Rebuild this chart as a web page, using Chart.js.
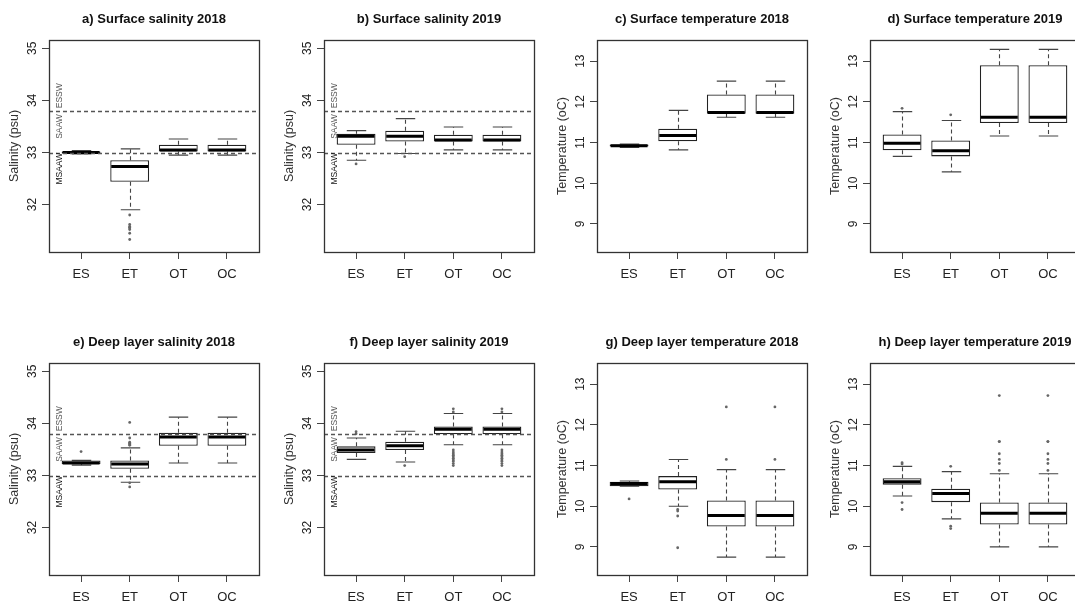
<!DOCTYPE html>
<html>
<head>
<meta charset="utf-8">
<script src="https://cdn.jsdelivr.net/npm/chart.js@4.4.1/dist/chart.umd.min.js"></script>
<style>
  body { margin: 0; background: #fff; width: 1075px; height: 603px; overflow: hidden; position: relative; }
  canvas { position: absolute; }
</style>
</head>
<body>
<script>
const groups = ['ES', 'ET', 'OT', 'OC'];
const salinityTicks = [32, 33, 34, 35];
const temperatureTicks = [9, 10, 11, 12, 13];
const waterMassLimits = [33.0, 33.8];
const waterMassNames = ['MSAAW', 'SAAW', 'ESSW'];
const waterMassNameY = [32.69, 33.5, 34.09];

// each row: [lower whisker, Q1, median, Q3, upper whisker]
const surfSal2018 = [[32.97, 32.98, 33.0, 33.02, 33.04], [31.9, 32.44, 32.73, 32.85, 33.07], [32.95, 33.02, 33.05, 33.15, 33.26], [32.95, 33.02, 33.05, 33.15, 33.26]];
const surfSal2018Out = [[], [31.8, 31.62, 31.58, 31.56, 31.55, 31.52, 31.45, 31.33], [], []];

const surfSal2019 = [[32.85, 33.15, 33.31, 33.36, 33.42], [32.98, 33.21, 33.31, 33.42, 33.65], [33.05, 33.21, 33.24, 33.34, 33.49], [33.05, 33.21, 33.24, 33.34, 33.49]];
const surfSal2019Out = [[32.78], [32.92], [], []];

const surfTemp2018 = [[10.88, 10.9, 10.92, 10.95, 10.96], [10.82, 11.03, 11.17, 11.34, 11.79], [11.62, 11.71, 11.74, 12.18, 12.51], [11.62, 11.71, 11.74, 12.18, 12.51]];
const surfTemp2018Out = [[], [], [], []];

const surfTemp2019 = [[10.66, 10.81, 10.98, 11.2, 11.76], [10.28, 10.66, 10.8, 11.05, 11.54], [11.16, 11.48, 11.62, 12.9, 13.29], [11.16, 11.48, 11.62, 12.9, 13.29]];
const surfTemp2019Out = [[11.84], [11.68], [], []];

const deepSal2018 = [[33.2, 33.22, 33.24, 33.29, 33.29], [32.87, 33.13, 33.22, 33.29, 33.53], [33.24, 33.57, 33.74, 33.82, 34.12], [33.24, 33.57, 33.74, 33.82, 34.12]];
const deepSal2018Out = [[33.46], [34.02, 33.72, 33.64, 33.62, 33.6, 33.58, 32.86, 32.78], [], []];

const deepSal2019 = [[33.31, 33.43, 33.49, 33.56, 33.72], [33.26, 33.49, 33.57, 33.65, 33.85], [33.59, 33.79, 33.89, 33.94, 34.19], [33.59, 33.79, 33.89, 33.94, 34.19]];
const deepSal2019Out = [[33.8, 33.84], [33.19], [34.22, 34.28, 33.49, 33.45, 33.42, 33.39, 33.36, 33.33, 33.3, 33.27, 33.23, 33.19], [34.22, 34.28, 33.49, 33.45, 33.42, 33.39, 33.36, 33.33, 33.3, 33.27, 33.23, 33.19]];

const deepTemp2018 = [[10.49, 10.49, 10.56, 10.6, 10.62], [10.0, 10.41, 10.6, 10.74, 11.15], [8.75, 9.5, 9.77, 10.14, 10.9], [8.75, 9.5, 9.77, 10.14, 10.9]];
const deepTemp2018Out = [[10.18], [9.92, 9.88, 9.76, 8.98], [11.15, 12.44], [11.15, 12.44]];

const deepTemp2019 = [[10.25, 10.53, 10.6, 10.69, 10.98], [9.69, 10.1, 10.31, 10.43, 10.85], [9.0, 9.55, 9.83, 10.09, 10.8], [9.0, 9.55, 9.83, 10.09, 10.8]];
const deepTemp2019Out = [[11.07, 11.04, 10.09, 9.92], [10.98, 9.51, 9.45], [10.88, 11.05, 11.15, 11.29, 11.59, 11.59, 12.72], [10.88, 11.05, 11.15, 11.29, 11.59, 11.59, 12.72]];

const panels = [
  { title: 'a) Surface salinity 2018', boxes: surfSal2018, out: surfSal2018Out, salinity: true },
  { title: 'b) Surface salinity 2019', boxes: surfSal2019, out: surfSal2019Out, salinity: true },
  { title: 'c) Surface temperature 2018', boxes: surfTemp2018, out: surfTemp2018Out, salinity: false },
  { title: 'd) Surface temperature 2019', boxes: surfTemp2019, out: surfTemp2019Out, salinity: false },
  { title: 'e) Deep layer salinity 2018', boxes: deepSal2018, out: deepSal2018Out, salinity: true },
  { title: 'f) Deep layer salinity 2019', boxes: deepSal2019, out: deepSal2019Out, salinity: true },
  { title: 'g) Deep layer temperature 2018', boxes: deepTemp2018, out: deepTemp2018Out, salinity: false },
  { title: 'h) Deep layer temperature 2019', boxes: deepTemp2019, out: deepTemp2019Out, salinity: false }
];

const colLeft = [0, 275, 548, 821];
const rowTop = [0, 323];
const CW = 267, CH = 300;

Chart.defaults.font.family = "'Liberation Sans', Arial, sans-serif";
Chart.defaults.devicePixelRatio = 1;

// whiskers, medians, water mass limits and the plot frame
const boxPlotPlugin = {
  id: 'boxPlot',
  beforeDatasetsDraw(chart, args, opts) {
    const { ctx } = chart;
    const xs = chart.scales.x, ys = chart.scales.y;
    const cap = xs.getPixelForValue(1.2) - xs.getPixelForValue(1);
    ctx.save();
    ctx.strokeStyle = '#444';
    ctx.lineWidth = 1.1;
    opts.boxes.forEach((b, i) => {
      const x = Math.round(xs.getPixelForValue(i + 1)) + 0.5;
      ctx.setLineDash([4, 3]);
      ctx.beginPath();
      ctx.moveTo(x, ys.getPixelForValue(b[3]));
      ctx.lineTo(x, ys.getPixelForValue(b[4]));
      ctx.moveTo(x, ys.getPixelForValue(b[1]));
      ctx.lineTo(x, ys.getPixelForValue(b[0]));
      ctx.stroke();
      ctx.setLineDash([]);
      ctx.beginPath();
      [b[0], b[4]].forEach(v => {
        const y = ys.getPixelForValue(v);
        ctx.moveTo(x - cap, y);
        ctx.lineTo(x + cap, y);
      });
      ctx.stroke();
    });
    ctx.restore();
  },
  afterDatasetsDraw(chart, args, opts) {
    const { ctx, chartArea: a } = chart;
    const xs = chart.scales.x, ys = chart.scales.y;
    const half = (xs.getPixelForValue(1.4) - xs.getPixelForValue(1));
    ctx.save();
    ctx.strokeStyle = '#000';
    ctx.lineWidth = 3;
    opts.boxes.forEach((b, i) => {
      const x = xs.getPixelForValue(i + 1);
      const y = ys.getPixelForValue(b[2]);
      ctx.beginPath();
      ctx.moveTo(x - half + 1, y);
      ctx.lineTo(x + half - 1, y);
      ctx.stroke();
    });

    if (opts.salinity) {
      ctx.strokeStyle = '#555';
      ctx.lineWidth = 1.6;
      ctx.setLineDash([4, 3]);
      waterMassLimits.forEach(v => {
        const y = Math.round(ys.getPixelForValue(v)) + 0.5;
        ctx.beginPath();
        ctx.moveTo(a.left, y);
        ctx.lineTo(a.right, y);
        ctx.stroke();
      });
      ctx.setLineDash([]);
      ctx.font = "8.5px 'Liberation Sans', Arial, sans-serif";
      ctx.textAlign = 'center';
      ctx.textBaseline = 'middle';
      waterMassNames.forEach((name, i) => {
        ctx.save();
        ctx.translate(xs.getPixelForValue(0.55), ys.getPixelForValue(waterMassNameY[i]));
        ctx.rotate(-Math.PI / 2);
        ctx.fillStyle = i === 0 ? '#111' : '#555';
        ctx.fillText(name, 0, 0);
        ctx.restore();
      });
    }

    ctx.strokeStyle = '#333';
    ctx.lineWidth = 1.3;
    ctx.strokeRect(Math.round(a.left) + 0.5, Math.round(a.top) + 0.5, Math.round(a.right - a.left), Math.round(a.bottom - a.top));
    ctx.restore();
  }
};

panels.forEach((p, k) => {
  const cv = document.createElement('canvas');
  cv.width = CW;
  cv.height = CH;
  cv.style.width = CW + 'px';
  cv.style.height = CH + 'px';
  cv.style.left = colLeft[k % 4] + 'px';
  cv.style.top = rowTop[Math.floor(k / 4)] + 'px';
  document.body.appendChild(cv);

  const tickVals = p.salinity ? salinityTicks : temperatureTicks;
  const outliers = [];
  p.out.forEach((vals, i) => vals.forEach(v => outliers.push({ x: i + 1, y: v })));

  new Chart(cv, {
    type: 'bar',
    data: {
      datasets: [
        {
          type: 'bar',
          data: p.boxes.map((b, i) => ({ x: i + 1, y: [b[1], b[3]] })),
          backgroundColor: '#fff',
          borderColor: '#222',
          borderWidth: 1.3,
          borderSkipped: false,
          barPercentage: 0.8,
          categoryPercentage: 1
        },
        {
          type: 'scatter',
          data: outliers,
          pointRadius: 1.4,
          pointBackgroundColor: '#666',
          pointBorderWidth: 0
        }
      ]
    },
    options: {
      responsive: false,
      animation: false,
      events: [],
      layout: { padding: { left: 0, right: CW - 49 - 210, top: 0, bottom: 0 } },
      plugins: {
        legend: { display: false },
        tooltip: { enabled: false },
        title: {
          display: true,
          text: p.title,
          fullSize: false,
          color: '#111',
          font: { size: 13, weight: 'bold' },
          padding: { top: 12, bottom: 12.4 }
        },
        boxPlot: { boxes: p.boxes, salinity: p.salinity }
      },
      scales: {
        x: {
          type: 'linear',
          min: 0.34,
          max: 4.66,
          offset: false,
          afterBuildTicks: s => { s.ticks = groups.map((g, i) => ({ value: i + 1 })); },
          afterFit: s => { s.height = CH - 252; },
          border: { display: false },
          grid: { drawOnChartArea: false, offset: false, tickLength: 7, color: '#444' },
          ticks: {
            autoSkip: false,
            maxRotation: 0,
            padding: 8,
            color: '#222',
            font: { family: "'Liberation Sans Narrow', 'Liberation Sans', Arial, sans-serif", size: 13 },
            callback: v => groups[v - 1]
          }
        },
        y: {
          min: p.salinity ? 31.09 : 8.31,
          max: p.salinity ? 35.16 : 13.52,
          afterBuildTicks: s => { s.ticks = tickVals.map(v => ({ value: v })); },
          afterFit: s => { s.width = 49; },
          border: { display: false },
          grid: { drawOnChartArea: false, tickLength: 7, color: '#444' },
          ticks: {
            minRotation: 90,
            maxRotation: 90,
            crossAlign: 'center',
            padding: 3,
            color: '#222',
            font: { size: 12 }
          },
          title: {
            display: true,
            text: p.salinity ? 'Salinity (psu)' : 'Temperature (oC)',
            color: '#333',
            font: { size: 12.5 },
            padding: { top: 7, bottom: 0 }
          }
        }
      }
    },
    plugins: [boxPlotPlugin]
  });
});
</script>
</body>
</html>
